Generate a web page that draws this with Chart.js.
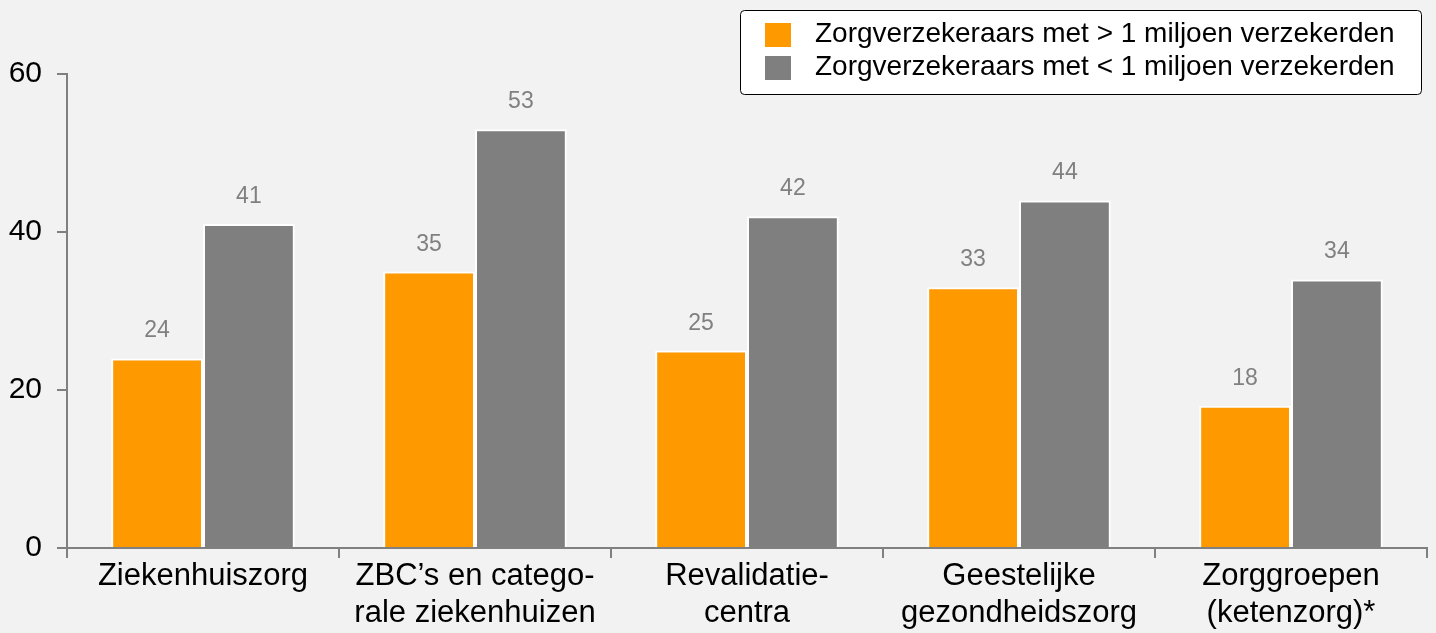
<!DOCTYPE html>
<html>
<head>
<meta charset="utf-8">
<script src="https://cdn.jsdelivr.net/npm/chart.js@4/dist/chart.umd.min.js"></script>
<style>
  html, body { margin: 0; padding: 0; background: #f2f2f2; }
  #wrap { width: 1436px; height: 633px; }
</style>
</head>
<body>
<div id="wrap"><canvas id="c" width="1436" height="633"></canvas></div>
<script>
const categories = [
  ["Ziekenhuiszorg"],
  ["ZBC\u2019s en catego-", "rale ziekenhuizen"],
  ["Revalidatie-", "centra"],
  ["Geestelijke", "gezondheidszorg"],
  ["Zorggroepen", "(ketenzorg)*"]
];
const seriesNames = [
  "Zorgverzekeraars met > 1 miljoen verzekerden",
  "Zorgverzekeraars met < 1 miljoen verzekerden"
];
const bigInsurers = [24, 35, 25, 33, 18];
const smallInsurers = [41, 53, 42, 44, 34];
const yTicks = [0, 20, 40, 60];

const FONT = "'Liberation Sans', Arial, sans-serif";
const colors = ["#ff9900", "#7f7f7f"];

// value labels above bars
const valueLabels = {
  id: "valueLabels",
  afterDatasetsDraw(chart) {
    const ctx = chart.ctx;
    ctx.save();
    ctx.font = "23px " + FONT;
    ctx.fillStyle = "#808080";
    ctx.textAlign = "center";
    ctx.textBaseline = "alphabetic";
    chart.data.datasets.forEach((ds, i) => {
      chart.getDatasetMeta(i).data.forEach((bar, j) => {
        ctx.fillText(ds.data[j], bar.x, bar.y - 21);
      });
    });
    ctx.restore();
  }
};

// boxed legend, top right
const boxLegend = {
  id: "boxLegend",
  afterDraw(chart) {
    const ctx = chart.ctx;
    const x = 740.5, y = 10.5, w = 681, h = 84, r = 4;
    ctx.save();
    ctx.beginPath();
    ctx.roundRect(x, y, w, h, r);
    ctx.fillStyle = "#ffffff";
    ctx.fill();
    ctx.strokeStyle = "#000000";
    ctx.lineWidth = 1;
    ctx.stroke();
    ctx.font = "28px " + FONT;
    ctx.textBaseline = "middle";
    ctx.textAlign = "left";
    chart.data.datasets.forEach((ds, i) => {
      const top = 23 + i * 33;
      ctx.fillStyle = ds.backgroundColor;
      ctx.fillRect(765, top, 26, 24);
      ctx.fillStyle = "#000000";
      ctx.fillText(ds.label, 815, top + 11);
    });
    ctx.restore();
  }
};

new Chart(document.getElementById("c"), {
  type: "bar",
  data: {
    labels: categories,
    datasets: [
      { label: seriesNames[0], data: bigInsurers, backgroundColor: colors[0] },
      { label: seriesNames[1], data: smallInsurers, backgroundColor: colors[1] }
    ].map(d => Object.assign(d, {
      borderColor: "#ffffff",
      borderWidth: 2,
      borderSkipped: "bottom",
      barPercentage: 1,
      categoryPercentage: 0.675
    }))
  },
  options: {
    responsive: false,
    animation: false,
    devicePixelRatio: 1,
    layout: { padding: { top: 74, right: 9, left: 0, bottom: 0 } },
    plugins: {
      legend: { display: false },
      tooltip: { enabled: false }
    },
    scales: {
      x: {
        offset: true,
        grid: {
          offset: true,
          drawOnChartArea: false,
          drawTicks: true,
          tickLength: 10,
          color: "#808080",
          lineWidth: 2
        },
        border: { color: "#808080", width: 2 },
        ticks: {
          color: "#000000",
          font: { family: FONT, size: 31, lineHeight: "37px" },
          padding: 0,
          maxRotation: 0,
          autoSkip: false
        },
        afterFit(scale) { scale.height = 85; }
      },
      y: {
        min: 0,
        max: 60,
        afterBuildTicks(scale) { scale.ticks = yTicks.map(v => ({ value: v })); },
        grid: {
          drawOnChartArea: false,
          drawTicks: true,
          tickLength: 10,
          color: "#808080",
          lineWidth: 2
        },
        border: { color: "#808080", width: 2 },
        ticks: {
          color: "#000000",
          font: { family: FONT, size: 30 },
          padding: 15
        },
        afterFit(scale) { scale.width = 67; }
      }
    }
  },
  plugins: [valueLabels, boxLegend]
});
</script>
</body>
</html>
